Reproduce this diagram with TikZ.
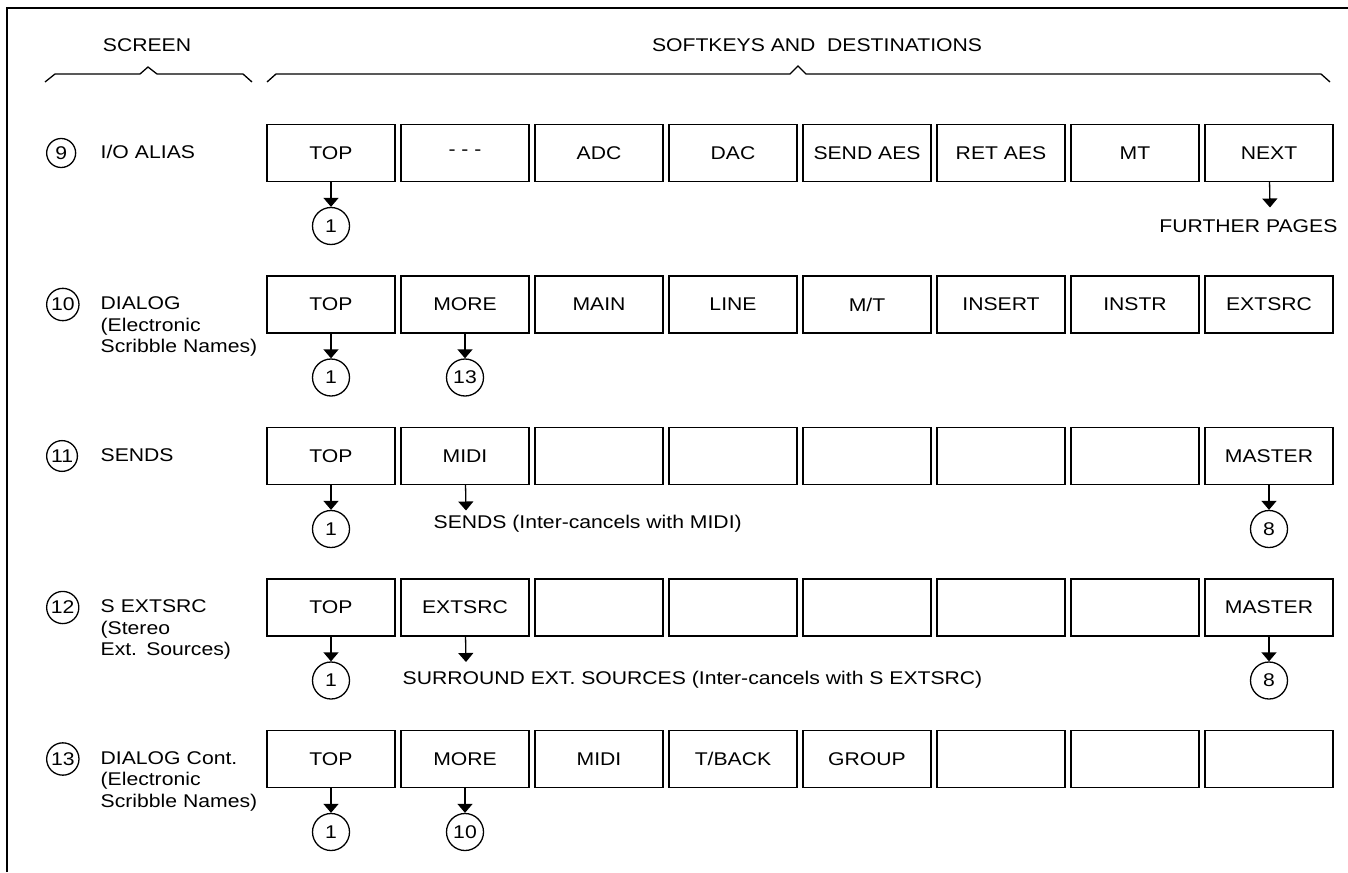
\documentclass[tikz,border=0pt]{standalone}
\usepackage{fontspec}
\setmainfont{Liberation Sans}[FakeStretch=1.15]
\usetikzlibrary{arrows.meta,positioning}

\newcommand{\keyfont}{\fontsize{9.2}{10.75}\selectfont}
\tikzset{
  every node/.style={font=\keyfont},
  key/.style={draw, minimum width=64pt, minimum height=28.5pt, inner sep=0pt},
  dest/.style={draw, circle, inner sep=1pt, minimum size=18.5pt},
  scr/.style={draw, circle, inner sep=1pt, minimum size=14.5pt},
  lbl/.style={anchor=mid west, text width=80pt, align=left, inner sep=0pt},
  note/.style={inner sep=0pt},
  arr/.style={->, shorten >=0pt},
}

\begin{document}
\begin{tikzpicture}[x=0.5pt, y=-0.5pt, line width=0.65pt, >={Triangle[length=4.5pt,width=7.5pt]}, node distance=36.5pt, on grid]
\useasboundingbox (0,0) rectangle (1348,872);
\draw (7,872) -- (7,8) -- (1348,8);

% headings
\node[note] (hscr) at (147,45) {SCREEN};
\node[note] (hsoft) at (817,45) {SOFTKEYS AND\ \ DESTINATIONS};
\draw (45,82) -- (55,74) -- (140,74) -- (148,67) -- (157,74) -- (243,74) -- (252,82);
\draw (267,82) -- (276,74) -- (790,74) -- (798,66) -- (806,74) -- (1321,74) -- (1330,82);

% 9  I/O ALIAS
\node[scr, anchor=west] (s9) at (46,153) {9}; \node[lbl] (l9) at (100,153) {I/O ALIAS};
\foreach \lab [count=\i] in {TOP,- - -,ADC,DAC,SEND AES,RET AES,MT,NEXT}
  \node[key] (k9\i) at ({331+(\i-1)*134},153) {\lab};
\node[dest] (c9a) [below=of k91] {1};
\coordinate (f9) at (1270,207.5);
\node[note, anchor=east] (fp) at (1338,226) {FURTHER PAGES};
\draw[arr] (k91) -- (c9a);
\draw[arr] (k98) -- (f9);

% 10  DIALOG
\node[scr, anchor=west] (s10) at (46,304.5) {10}; \node[lbl] (l10) at (100,304.5) {DIALOG\\(Electronic\\Scribble Names)};
\foreach \lab [count=\i] in {TOP,MORE,MAIN,LINE,M/T,INSERT,INSTR,EXTSRC}
  \node[key] (k10\i) at ({331+(\i-1)*134},304.5) {\lab};
\node[dest] (c10a) [below=of k101] {1};
\node[dest] (c10b) [below=of k102] {13};
\draw[arr] (k101) -- (c10a);
\draw[arr] (k102) -- (c10b);

% 11  SENDS
\node[scr, anchor=west] (s11) at (46,456) {11}; \node[lbl] (l11) at (100,456) {SENDS};
\foreach \lab [count=\i] in {TOP,MIDI,{},{},{},{},{},MASTER}
  \node[key] (k11\i) at ({331+(\i-1)*134},456) {\lab};
\node[dest] (c11a) [below=of k111] {1};
\node[dest] (c11b) [below=of k118] {8};
\coordinate (f11) at (466,510.5);
\node[note, anchor=west] (n11) at (433,524) {SENDS (Inter-cancels with MIDI)};
\draw[arr] (k111) -- (c11a);
\draw[arr] (k112) -- (f11);
\draw[arr] (k118) -- (c11b);

% 12  S EXTSRC
\node[scr, anchor=west] (s12) at (46,607.5) {12}; \node[lbl] (l12) at (100,607.5) {S EXTSRC\\(Stereo\\Ext. Sources)};
\foreach \lab [count=\i] in {TOP,EXTSRC,{},{},{},{},{},MASTER}
  \node[key] (k12\i) at ({331+(\i-1)*134},607.5) {\lab};
\node[dest] (c12a) [below=of k121] {1};
\node[dest] (c12b) [below=of k128] {8};
\coordinate (f12) at (466,662);
\node[note, anchor=west] (n12) at (402,680) {SURROUND EXT. SOURCES (Inter-cancels with S EXTSRC)};
\draw[arr] (k121) -- (c12a);
\draw[arr] (k122) -- (f12);
\draw[arr] (k128) -- (c12b);

% 13  DIALOG Cont.
\node[scr, anchor=west] (s13) at (46,759) {13}; \node[lbl] (l13) at (100,759) {DIALOG Cont.\\(Electronic\\Scribble Names)};
\foreach \lab [count=\i] in {TOP,MORE,MIDI,T/BACK,GROUP,{},{},{}}
  \node[key] (k13\i) at ({331+(\i-1)*134},759) {\lab};
\node[dest] (c13a) [below=of k131] {1};
\node[dest] (c13b) [below=of k132] {10};
\draw[arr] (k131) -- (c13a);
\draw[arr] (k132) -- (c13b);
\end{tikzpicture}
\end{document}
